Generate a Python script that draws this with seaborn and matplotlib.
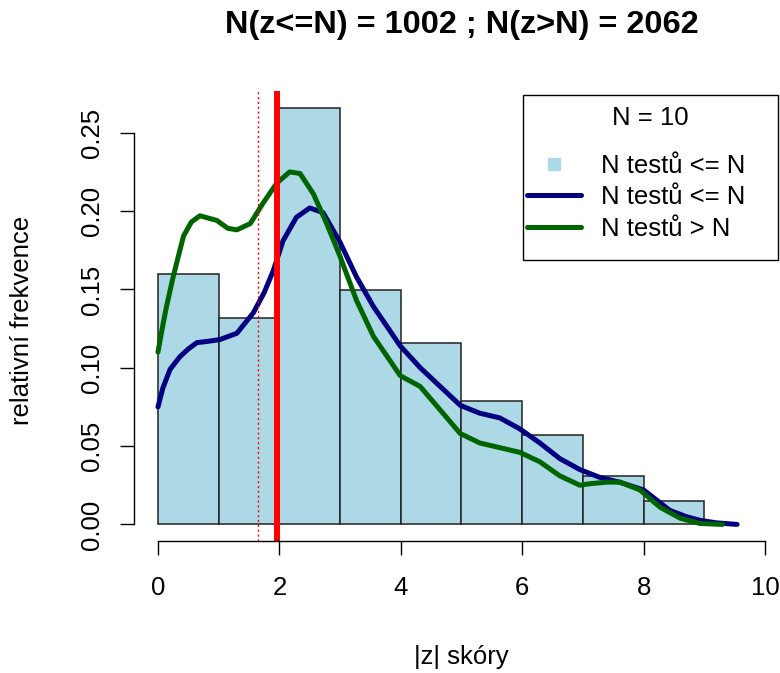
import matplotlib
matplotlib.use("Agg")
import matplotlib.pyplot as plt
import seaborn as sns
from matplotlib.lines import Line2D
from matplotlib.patches import Rectangle

# relativní četnosti |z| v intervalech délky 1
bin_edges = [0, 1, 2, 3, 4, 5, 6, 7, 8, 9]
rel_freq = [0.160, 0.132, 0.266, 0.1495, 0.1157, 0.0786, 0.057, 0.0307, 0.0149]

# hustota - N testů <= N (modrá)
dens_le_x = [0, 0.08, 0.2, 0.36, 0.5, 0.64, 0.85, 1.02, 1.3, 1.57, 1.75, 1.9, 2.06,
             2.28, 2.5, 2.72, 3.0, 3.27, 3.55, 3.99, 4.32, 4.65, 4.98, 5.3, 5.63,
             5.96, 6.29, 6.62, 6.95, 7.28, 7.6, 8.0, 8.2, 8.43, 8.7, 8.93, 9.2, 9.54]
dens_le_y = [0.075, 0.087, 0.099, 0.107, 0.112, 0.116, 0.117, 0.118, 0.122, 0.135,
             0.148, 0.162, 0.181, 0.196, 0.202, 0.199, 0.180, 0.158, 0.139, 0.114,
             0.100, 0.088, 0.076, 0.071, 0.068, 0.061, 0.052, 0.042, 0.035, 0.030,
             0.027, 0.022, 0.016, 0.009, 0.005, 0.0026, 0.001, 0.0]

# hustota - N testů > N (zelená)
dens_gt_x = [0, 0.07, 0.14, 0.25, 0.42, 0.55, 0.69, 0.97, 1.15, 1.3, 1.52, 1.73, 1.96,
             2.17, 2.34, 2.56, 2.78, 3.0, 3.27, 3.55, 3.99, 4.32, 4.65, 4.98, 5.3,
             5.63, 5.96, 6.29, 6.62, 6.95, 7.12, 7.4, 7.61, 7.94, 8.27, 8.6, 8.93, 9.3]
dens_gt_y = [0.110, 0.125, 0.139, 0.158, 0.184, 0.193, 0.197, 0.194, 0.189, 0.188,
             0.192, 0.205, 0.218, 0.225, 0.224, 0.211, 0.192, 0.171, 0.143, 0.120,
             0.095, 0.088, 0.073, 0.058, 0.052, 0.049, 0.046, 0.040, 0.031, 0.025,
             0.026, 0.027, 0.027, 0.022, 0.011, 0.004, 0.0006, 0.0]

z_krit = 1.96
z_krit_jednostr = 1.645

x_ticks = [0, 2, 4, 6, 8, 10]
y_ticks = [0.00, 0.05, 0.10, 0.15, 0.20, 0.25]

sns.set_style("ticks")
plt.rcParams['font.family'] = ['Liberation Sans', 'DejaVu Sans']
plt.rcParams['text.color'] = 'black'
plt.rcParams['axes.labelcolor'] = 'black'
plt.rcParams['xtick.color'] = 'black'
plt.rcParams['ytick.color'] = 'black'

W, H = 780, 673
fig = plt.figure(figsize=(W / 100, H / 100), dpi=100)
ax = fig.add_axes([0.1714, 0.1961, 0.8405, 0.6686])

# histogram
centers = [(a + b) / 2 for a, b in zip(bin_edges[:-1], bin_edges[1:])]
sns.histplot(x=centers, weights=rel_freq, bins=bin_edges, ax=ax,
             color='lightblue', alpha=1, edgecolor='#222222', linewidth=1.1)

# hustoty
sns.lineplot(x=dens_le_x, y=dens_le_y, color='navy', lw=3.6, estimator=None, ax=ax)
sns.lineplot(x=dens_gt_x, y=dens_gt_y, color='darkgreen', lw=3.6, estimator=None, ax=ax)

# kritické hodnoty
ax.axvline(z_krit, color='red', lw=4.3)
ax.axvline(z_krit_jednostr, color='red', lw=1, ls=(0, (1.5, 2)))

ax.set_xlim(-0.4, 10.4)
ax.set_ylim(-0.0106, 0.2766)
ax.set_xticks(x_ticks)
ax.set_xticklabels([str(t) for t in x_ticks])
ax.set_yticks(y_ticks)
ax.set_yticklabels([f"{t:.2f}" for t in y_ticks], rotation=90, va='center')

for s in ['top', 'right']:
    ax.spines[s].set_visible(False)
ax.spines['left'].set_bounds(0, 0.25)
ax.spines['bottom'].set_bounds(0, 10)
for s in ['left', 'bottom']:
    ax.spines[s].set_color('black')
    ax.spines[s].set_linewidth(1.0)
ax.tick_params(axis='both', length=10, width=1.0, color='black',
               labelcolor='black', labelsize=18.5)
ax.tick_params(axis='x', pad=15)
ax.tick_params(axis='y', pad=11.5)

ax.set_xlabel('|z| skóry', fontsize=18.5, color='black')
ax.set_ylabel('relativní frekvence', fontsize=18.5, color='black')
ax.xaxis.set_label_coords(0.5, -0.258)
ax.xaxis.label.set_va('center')
ax.yaxis.set_label_coords(-0.1704, 0.49)
ax.yaxis.label.set_va('center')

ax.set_title('N(z<=N) = 1002 ; N(z>N) = 2062', fontsize=23.4, fontweight='bold',
             y=1.128, va='center', color='black')

# legenda ve stylu R: rámeček, nadpis uprostřed, položky pod ním
fig.patches.append(Rectangle((523 / W, 1 - 260 / H), 255 / W, 165 / H,
                             transform=fig.transFigure, fill=False,
                             ec='black', lw=1.0))
fig.text(650.5 / W, 1 - 118 / H, 'N = 10', ha='center', va='center',
         fontsize=18.5, color='black')
handles = [Line2D([], [], marker='s', ls='none', color='lightblue', markersize=9),
           Line2D([], [], color='navy', lw=3.6),
           Line2D([], [], color='darkgreen', lw=3.6)]
labels = ['N testů <= N', 'N testů <= N', 'N testů > N']
fig.legend(handles, labels, loc='upper left', frameon=False,
           bbox_to_anchor=(523 / W, 1 - 150 / H), borderaxespad=0,
           fontsize=18.5, handlelength=2.1, handletextpad=0.8,
           labelspacing=0.29, borderpad=0.15, labelcolor='black')

plt.savefig('out.png', dpi=100)
